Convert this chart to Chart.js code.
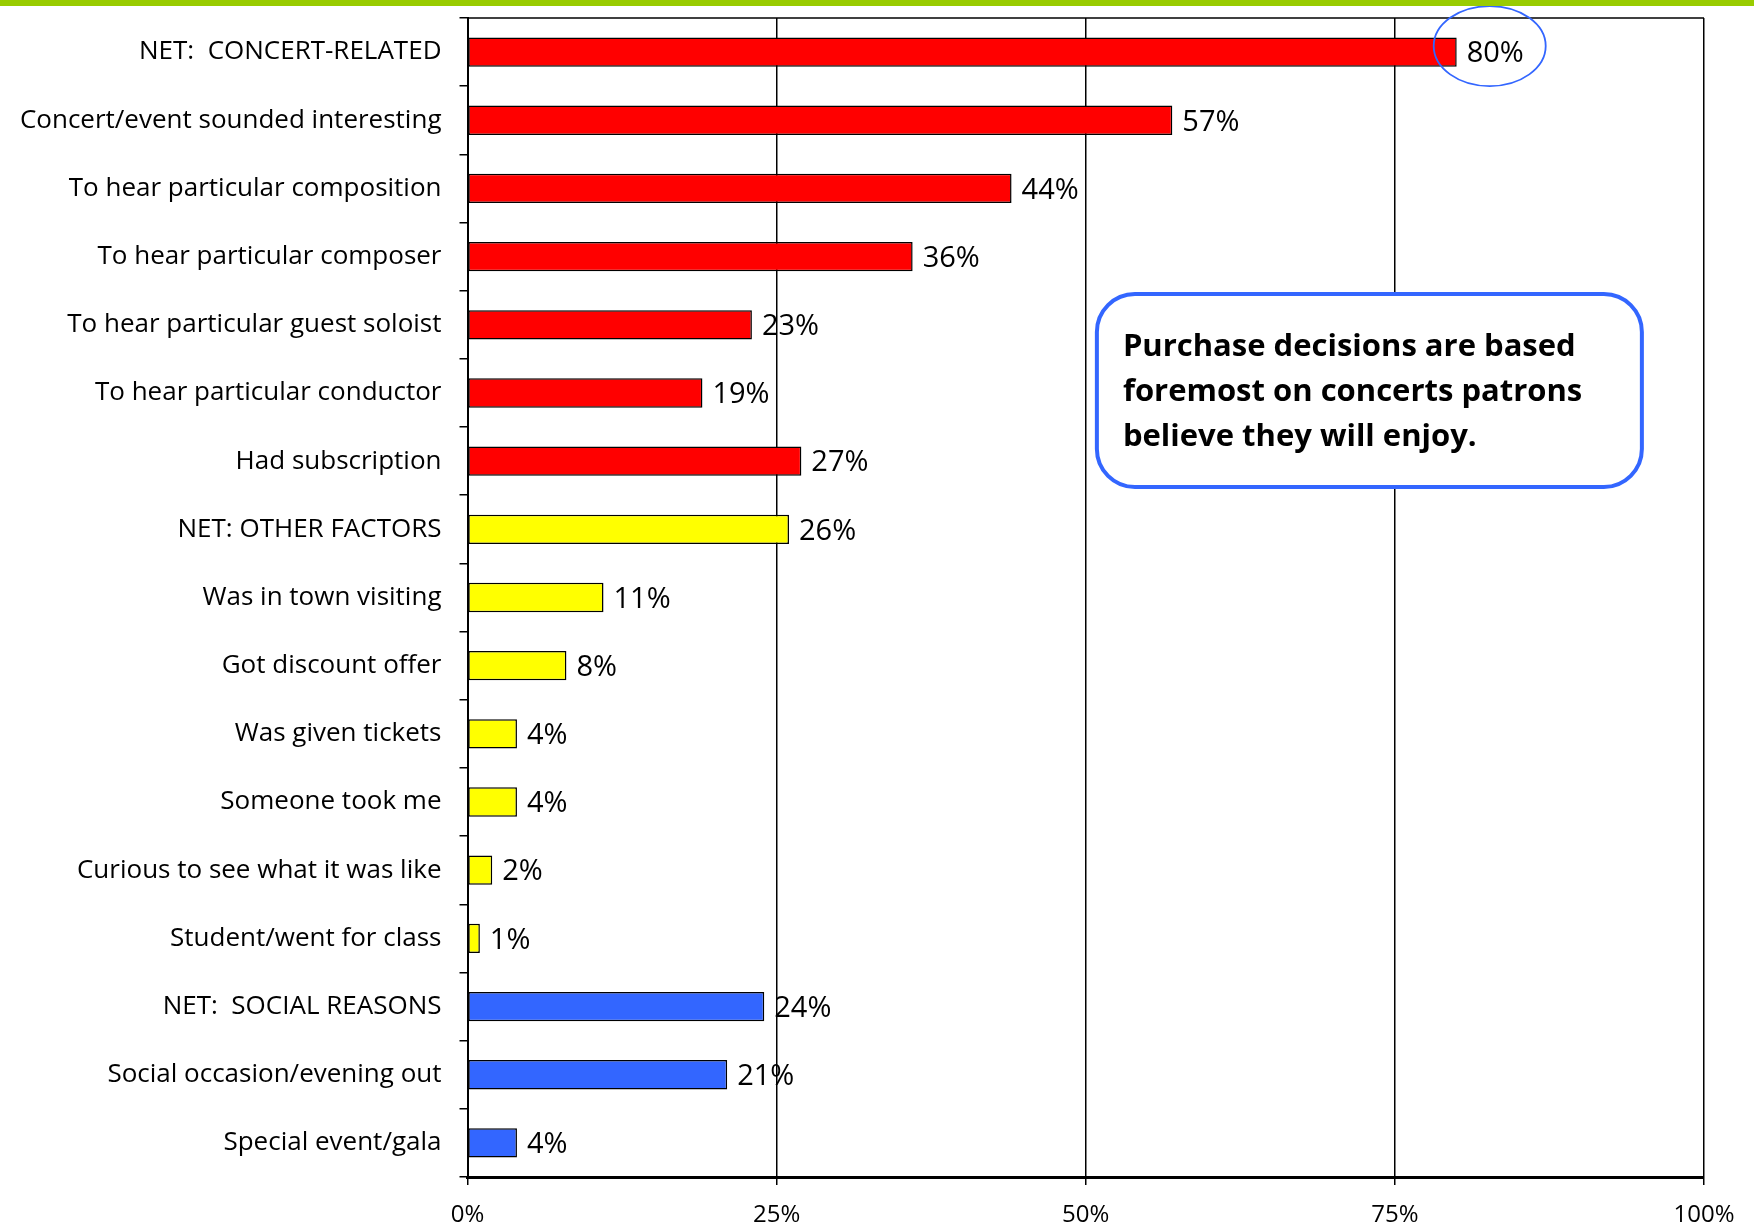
<!DOCTYPE html>
<html>
<head>
<meta charset="utf-8">
<script src="https://cdn.jsdelivr.net/npm/chart.js@4.4.1/dist/chart.umd.min.js"></script>
<style>
  html, body { margin: 0; padding: 0; background: #fff; }
  #wrap { position: relative; width: 1754px; height: 1229px; }
  #topbar { position: absolute; left: 0; top: 0; width: 1754px; height: 6px; background: #99cc00; }
</style>
</head>
<body>
<div id="wrap">
  <canvas id="chart" width="1754" height="1229"></canvas>
  <div id="topbar"></div>
</div>
<script>
// purchase reasons, top to bottom as in the slide
const reasons = [
    'NET:  CONCERT-RELATED',
    'Concert/event sounded interesting',
    'To hear particular composition',
    'To hear particular composer',
    'To hear particular guest soloist',
    'To hear particular conductor',
    'Had subscription',
    'NET: OTHER FACTORS',
    'Was in town visiting',
    'Got discount offer',
    'Was given tickets',
    'Someone took me',
    'Curious to see what it was like',
    'Student/went for class',
    'NET:  SOCIAL REASONS',
    'Social occasion/evening out',
    'Special event/gala'
];
const shares = [80, 57, 44, 36, 23, 19, 27, 26, 11, 8, 4, 4, 2, 1, 24, 21, 4];
const groups = ['concert', 'concert', 'concert', 'concert', 'concert', 'concert', 'concert',
    'other', 'other', 'other', 'other', 'other', 'other', 'other',
    'social', 'social', 'social'];
const groupColors = { concert: '#ff0000', other: '#ffff00', social: '#3366ff' };
const xTicks = [0, 25, 50, 75, 100];
const calloutLines = [
    'Purchase decisions are based',
    'foremost on concerts patrons',
    'believe they will enjoy.'
];

const FONT = "'Open Sans', sans-serif";
const NARROW = "'Liberation Sans Narrow', 'Open Sans', sans-serif";

const valueLabels = {
    id: 'valueLabels',
    afterDatasetsDraw(chart) {
        const ctx = chart.ctx;
        const meta = chart.getDatasetMeta(0);
        ctx.save();
        ctx.font = `29px ${FONT}`;
        ctx.fillStyle = '#000';
        ctx.textBaseline = 'middle';
        ctx.textAlign = 'left';
        meta.data.forEach((bar, i) => {
            ctx.fillText(shares[i] + '%', bar.x + 10, bar.y + 2);
        });
        ctx.restore();
    }
};

const decorations = {
    id: 'decorations',
    afterDraw(chart) {
        const ctx = chart.ctx;
        const area = chart.chartArea;
        const x = chart.scales.x;
        const first = chart.getDatasetMeta(0).data[0];
        ctx.save();

        // top frame line
        ctx.strokeStyle = '#000';
        ctx.lineWidth = 1.5;
        ctx.beginPath();
        ctx.moveTo(area.left, area.top);
        ctx.lineTo(area.right, area.top);
        ctx.stroke();

        // ellipse around the top value
        ctx.strokeStyle = '#3366ff';
        ctx.lineWidth = 1.8;
        ctx.beginPath();
        ctx.ellipse(x.getPixelForValue(shares[0]) + 33, first.y - 6, 56, 40, 0, 0, Math.PI * 2);
        ctx.stroke();

        // callout box
        const bx = x.getPixelForValue(50.9), by = 294, bw = 545, bh = 193, r = 38;
        ctx.beginPath();
        ctx.moveTo(bx + r, by);
        ctx.arcTo(bx + bw, by, bx + bw, by + bh, r);
        ctx.arcTo(bx + bw, by + bh, bx, by + bh, r);
        ctx.arcTo(bx, by + bh, bx, by, r);
        ctx.arcTo(bx, by, bx + bw, by, r);
        ctx.closePath();
        ctx.fillStyle = '#fff';
        ctx.fill();
        ctx.lineWidth = 4;
        ctx.strokeStyle = '#3366ff';
        ctx.stroke();

        ctx.fillStyle = '#000';
        ctx.font = `bold 31px ${FONT}`;
        ctx.textBaseline = 'middle';
        ctx.textAlign = 'left';
        calloutLines.forEach((line, i) => {
            ctx.fillText(line, bx + 26, by + 53 + i * 45);
        });
        ctx.restore();
    }
};

new Chart(document.getElementById('chart'), {
    type: 'bar',
    data: {
        labels: reasons,
        datasets: [{
            data: shares,
            backgroundColor: groups.map(g => groupColors[g]),
            borderColor: '#000',
            borderWidth: 1.5,
            borderSkipped: false,
            categoryPercentage: 1,
            barPercentage: 0.43
        }]
    },
    options: {
        indexAxis: 'y',
        responsive: false,
        animation: false,
        devicePixelRatio: 1,
        layout: { padding: { top: 18, right: 50, left: 0, bottom: 0 } },
        plugins: {
            legend: { display: false },
            tooltip: { enabled: false }
        },
        scales: {
            x: {
                min: 0,
                max: 100,
                afterBuildTicks(axis) {
                    axis.ticks = xTicks.map(v => ({ value: v }));
                },
                afterFit(axis) { axis.height = 52; },
                grid: { color: '#000', lineWidth: 1.5, tickLength: 8 },
                border: { color: '#000', width: 3 },
                ticks: {
                    color: '#000',
                    padding: 16,
                    font: { family: NARROW, size: 24 },
                    callback: v => v + '%'
                }
            },
            y: {
                afterFit(axis) {
                    axis.width = 467.5;
                    axis.paddingTop = 0;
                    axis.paddingBottom = 0;
                },
                grid: { drawOnChartArea: false, color: '#000', lineWidth: 1.5, tickLength: 8, offset: true },
                border: { color: '#000', width: 2 },
                ticks: {
                    color: '#000',
                    padding: 18,
                    font: { family: FONT, size: 26 }
                }
            }
        }
    },
    plugins: [valueLabels, decorations]
});
</script>
</body>
</html>
